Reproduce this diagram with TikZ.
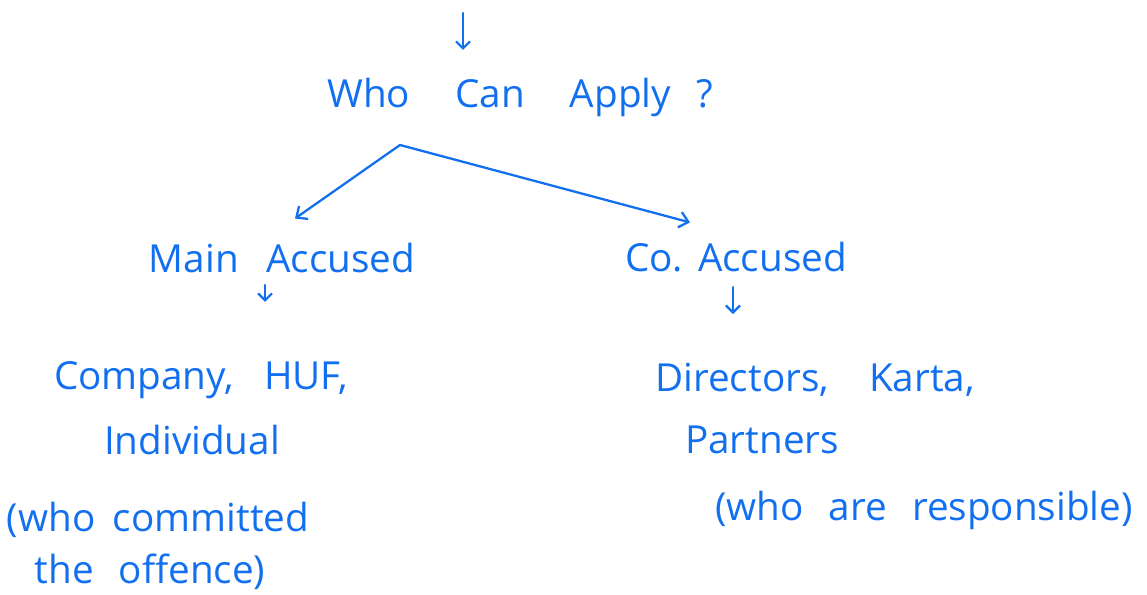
\documentclass[tikz,border=0pt]{standalone}
\usepackage{fontspec}
\setmainfont{Open Sans}
\usetikzlibrary{arrows.meta, positioning, calc}
\definecolor{ink}{RGB}{18,112,240}

\begin{document}
\begin{tikzpicture}[
    txt/.style={inner sep=1pt, ink, font=\fontsize{22}{26}\selectfont},
    br/.style={-{Straight Barb[length=5pt,width=9pt]},ink,line width=1.3pt,line cap=round},
    dn/.style={-{Straight Barb[length=4pt,width=8pt]},ink,line width=1.3pt,line cap=round},
  ]
    \useasboundingbox (0,0) rectangle (22.94,-11.9);

    %% Question ───────────────────────────────
    \node[txt] (Q) at (10.4,-1.94) {Who\hspace{0.9cm}Can\hspace{0.9cm}Apply\hspace{0.5cm}?};
    \coordinate (q0) at (9.26,-0.26);
    \draw[dn] (q0) -- ++(0,-0.74);

    %% Branches ───────────────────────────────
    \node[txt] (MA) at (5.64,-5.16) {Main\hspace{0.55cm}Accused};
    \node[txt] (CA) at (14.72,-5.14) {Co.\hspace{0.3cm}Accused};
    \coordinate (apx) at (8.0,-2.9);
    \draw[br] (apx) -- ([xshift=0.26cm,yshift=0.45cm]MA.north);
    \draw[br] (apx) -- ([xshift=-0.92cm,yshift=0.35cm]CA.north);

    %% Main accused ───────────────────────────
    \node[txt] (L1) at (4.02,-7.6)  {Company,\hspace{0.6cm}HUF,};
    \node[txt] (L2) at (3.84,-8.8)  {Individual};
    \node[txt] (L3) at (3.16,-10.4) {(who\hspace{0.35cm}committed};
    \node[txt] (L4) at (3.0,-11.44) {the\hspace{0.5cm}offence)};
    \draw[dn] ([xshift=-0.34cm,yshift=-0.2cm]MA.south) -- ++(0,-0.34);

    %% Co-accused ─────────────────────────────
    \node[txt] (R1) at (16.3,-7.6)   {Directors,\hspace{0.8cm}Karta,};
    \node[txt] (R2) at (15.24,-8.8)  {Partners};
    \node[txt] (R3) at (18.48,-10.2) {(who\hspace{0.5cm}are\hspace{0.5cm}responsible)};
    \draw[dn] ([xshift=-0.06cm,yshift=-0.26cm]CA.south) -- ++(0,-0.54);

  \end{tikzpicture}
\end{document}
